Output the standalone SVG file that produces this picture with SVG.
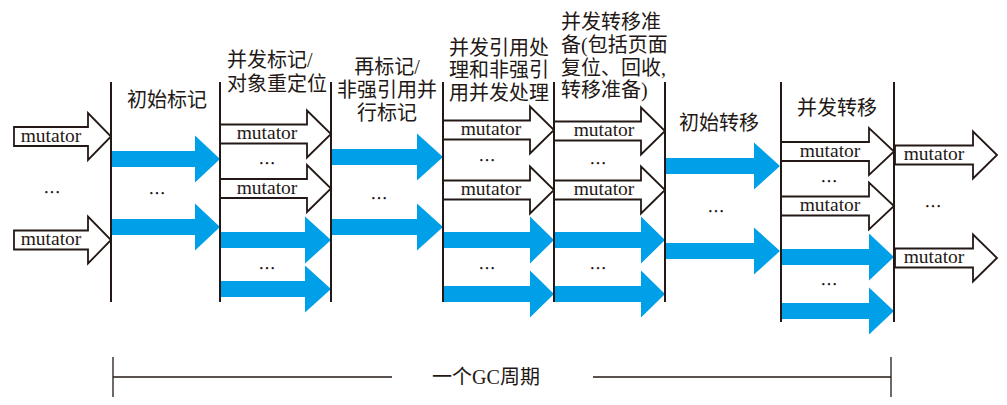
<svg xmlns="http://www.w3.org/2000/svg" width="1007" height="405" viewBox="0 0 1007 405">
<style>
.mut{fill:#fff;stroke:#231815;stroke-width:1.8;stroke-linejoin:miter}
.gc{fill:#00a0e9;stroke:none}
.div{stroke:#231815;stroke-width:2;fill:none}
.hd{font-family:"Liberation Serif","Noto Sans CJK SC",serif;font-size:20px;fill:#231815}
.mt{font-family:"Liberation Serif",serif;font-size:19.5px;fill:#231815;text-anchor:middle}
.dots{font-family:"Noto Sans CJK SC",sans-serif;font-size:17px;fill:#231815;text-anchor:middle}
.mid{text-anchor:middle}
.br{stroke:#231815;stroke-width:1.3;fill:none}
</style>
<rect width="1007" height="405" fill="#fff"/>

<g id="mutators-before">
<polygon class="mut" points="14,127 88,127 88,113 111,136.5 88,160 88,146 14,146"/>
<text class="mt" x="51" y="141.5">mutator</text>
<text class="dots" x="52" y="199">…</text>
<polygon class="mut" points="14,230.5 88,230.5 88,216.5 111,240 88,263.5 88,249.5 14,249.5"/>
<text class="mt" x="51" y="245">mutator</text>
</g>

<g id="phase-initial-mark">
<text class="hd mid" x="167" y="107">初始标记</text>
<polygon class="gc" points="111,151 195,151 195,135.5 220,159 195,182.5 195,167 111,167"/>
<text class="dots" x="157" y="200">…</text>
<polygon class="gc" points="111,219 195,219 195,203.5 220,227 195,250.5 195,235 111,235"/>
</g>

<g id="phase-concurrent-mark">
<text class="hd" x="227" y="67">并发标记/</text>
<text class="hd" x="227" y="91">对象重定位</text>
<polygon class="mut" points="220,124.5 307,124.5 307,110.5 331,134 307,157.5 307,143.5 220,143.5"/>
<text class="mt" x="267" y="139">mutator</text>
<text class="dots" x="267" y="170">…</text>
<polygon class="mut" points="220,179 307,179 307,165 331,188.5 307,212 307,198 220,198"/>
<text class="mt" x="267" y="193.5">mutator</text>
<polygon class="gc" points="220,232 305,232 305,216.5 331,240 305,263.5 305,248 220,248"/>
<text class="dots" x="267" y="275">…</text>
<polygon class="gc" points="220,281 305,281 305,265.5 331,289 305,312.5 305,297 220,297"/>
</g>

<g id="phase-remark">
<text class="hd mid" x="387" y="74">再标记/</text>
<text class="hd mid" x="387" y="97">非强引用并</text>
<text class="hd mid" x="387" y="120">行标记</text>
<polygon class="gc" points="331,149 417,149 417,133.5 443,157 417,180.5 417,165 331,165"/>
<text class="dots" x="379" y="205">…</text>
<polygon class="gc" points="331,219 417,219 417,203.5 443,227 417,250.5 417,235 331,235"/>
</g>

<g id="phase-concurrent-reference">
<text class="hd" x="449" y="55">并发引用处</text>
<text class="hd" x="449" y="77">理和非强引</text>
<text class="hd" x="449" y="100">用并发处理</text>
<polygon class="mut" points="443,120.5 530,120.5 530,106.5 554,130 530,153.5 530,139.5 443,139.5"/>
<text class="mt" x="491" y="135">mutator</text>
<text class="dots" x="487" y="167">…</text>
<polygon class="mut" points="443,180.5 530,180.5 530,166.5 554,190 530,213.5 530,199.5 443,199.5"/>
<text class="mt" x="491" y="195">mutator</text>
<polygon class="gc" points="443,232 530,232 530,216.5 554,240 530,263.5 530,248 443,248"/>
<text class="dots" x="487" y="275">…</text>
<polygon class="gc" points="443,286 530,286 530,270.5 554,294 530,317.5 530,302 443,302"/>
</g>

<g id="phase-relocation-prep">
<text class="hd" x="561" y="29">并发转移准</text>
<text class="hd" x="561" y="52">备(包括页面</text>
<text class="hd" x="561" y="75">复位、回收,</text>
<text class="hd" x="561" y="97">转移准备)</text>
<polygon class="mut" points="554,121.5 641,121.5 641,107.5 665,131 641,154.5 641,140.5 554,140.5"/>
<text class="mt" x="604" y="136">mutator</text>
<text class="dots" x="598" y="170">…</text>
<polygon class="mut" points="554,180.5 641,180.5 641,166.5 665,190 641,213.5 641,199.5 554,199.5"/>
<text class="mt" x="604" y="195">mutator</text>
<polygon class="gc" points="554,232 641,232 641,216.5 665,240 641,263.5 641,248 554,248"/>
<text class="dots" x="598" y="275">…</text>
<polygon class="gc" points="554,286 641,286 641,270.5 665,294 641,317.5 641,302 554,302"/>
</g>

<g id="phase-initial-relocation">
<text class="hd mid" x="719" y="130">初始转移</text>
<polygon class="gc" points="665,158 754,158 754,142.5 780,166 754,189.5 754,174 665,174"/>
<text class="dots" x="716" y="218">…</text>
<polygon class="gc" points="665,243 754,243 754,227.5 780,251 754,274.5 754,259 665,259"/>
</g>

<g id="phase-concurrent-relocation">
<text class="hd mid" x="837" y="115">并发转移</text>
<polygon class="mut" points="781,142 869,142 869,128 894,151.5 869,175 869,161 781,161"/>
<text class="mt" x="830" y="156.5">mutator</text>
<text class="dots" x="829" y="188">…</text>
<polygon class="mut" points="781,196.5 869,196.5 869,182.5 894,206 869,229.5 869,215.5 781,215.5"/>
<text class="mt" x="830" y="211">mutator</text>
<polygon class="gc" points="781,249 869,249 869,233.5 894,257 869,280.5 869,265 781,265"/>
<text class="dots" x="829" y="291">…</text>
<polygon class="gc" points="781,303 869,303 869,287.5 894,311 869,334.5 869,319 781,319"/>
</g>

<g id="mutators-after">
<polygon class="mut" points="895,145.5 973,145.5 973,131.5 997,155 973,178.5 973,164.5 895,164.5"/>
<text class="mt" x="934" y="160">mutator</text>
<text class="dots" x="933" y="213">…</text>
<polygon class="mut" points="895,248.5 973,248.5 973,234.5 997,258 973,281.5 973,267.5 895,267.5"/>
<text class="mt" x="934" y="263">mutator</text>
</g>

<g id="connectors">
<line class="div" x1="111" y1="82" x2="111" y2="302"/>
<line class="div" x1="220" y1="82" x2="220" y2="302"/>
<line class="div" x1="331" y1="82" x2="331" y2="302"/>
<line class="div" x1="443" y1="82" x2="443" y2="302"/>
<line class="div" x1="554" y1="82" x2="554" y2="302"/>
<line class="div" x1="665" y1="82" x2="665" y2="302"/>
<line class="div" x1="781" y1="82" x2="781" y2="322"/>
<line class="div" x1="894" y1="82" x2="894" y2="322"/>
</g>

<g id="gc-cycle">
<line class="br" x1="113" y1="357" x2="113" y2="397"/>
<line class="br" x1="891" y1="357" x2="891" y2="397"/>
<line class="br" x1="113" y1="377" x2="392" y2="377"/>
<line class="br" x1="593" y1="377" x2="891" y2="377"/>
<text class="hd mid" x="486" y="384">一个GC周期</text>
</g>
</svg>
